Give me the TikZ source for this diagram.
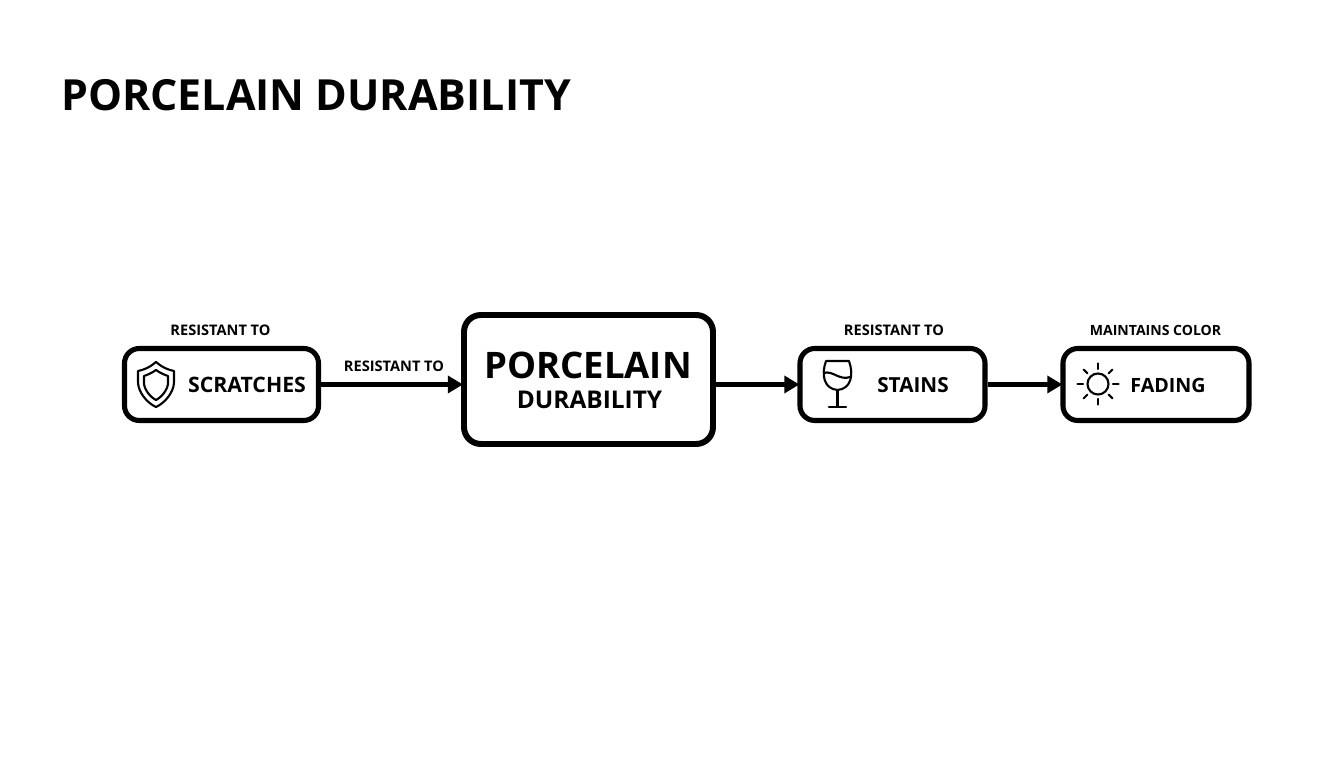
\documentclass[tikz,border=0pt]{standalone}
\usepackage{fontspec}
\setmainfont{Open Sans}
\usetikzlibrary{arrows.meta}
\begin{document}
\begin{tikzpicture}[->,>={Triangle[length=4.3pt,width=4.8pt]},line width=1.15pt,
  main box/.style={draw,rounded corners=4.2pt,line width=1.45pt,inner sep=0pt},
  big box/.style={main box,rounded corners=4.8pt,line width=1.7pt},
  main text/.style={font=\fontsize{6.05}{7}\selectfont\bfseries,inner sep=0pt},
  small text/.style={font=\fontsize{4.15}{5}\selectfont\bfseries,inner sep=0pt},
  icon line/.style={-,line width=0.6pt,line cap=round,line join=round}]

  \useasboundingbox (0,0) rectangle (13.44,7.68);

  \node[font=\fontsize{12.2}{15}\selectfont\bfseries,inner sep=0pt] (title) at (3.16,6.73) {PORCELAIN DURABILITY};

  \node[main box,minimum width=1.94cm,minimum height=0.72cm] (scratches) at (2.215,3.835) {};
  \node[big box,minimum width=2.49cm,minimum height=1.29cm] (porcelain) at (5.885,3.885) {};
  \node[main box,minimum width=1.85cm,minimum height=0.72cm] (stains) at (8.925,3.835) {};
  \node[main box,minimum width=1.86cm,minimum height=0.72cm] (fading) at (11.56,3.835) {};

  \node[main text] (t1) at (2.47,3.83) {SCRATCHES};
  \node[main text,font=\fontsize{5.9}{7}\selectfont\bfseries] (t3) at (9.13,3.83) {STAINS};
  \node[main text,font=\fontsize{5.6}{7}\selectfont\bfseries] (t4) at (11.68,3.83) {FADING};
  \node[font=\fontsize{10.4}{12}\selectfont\bfseries,inner sep=0pt] (t2a) at (5.88,4.03) {PORCELAIN};
  \node[font=\fontsize{6.95}{9}\selectfont\bfseries,inner sep=0pt] (t2b) at (5.895,3.68) {DURABILITY};

  \node[small text] (l1) at (2.205,4.38) {RESISTANT TO};
  \node[small text] (l2) at (3.94,4.02) {RESISTANT TO};
  \node[small text] (l3) at (8.94,4.38) {RESISTANT TO};
  \node[small text,font=\fontsize{4}{5}\selectfont\bfseries] (l4) at (11.555,4.38) {MAINTAINS COLOR};

  \draw (scratches) -- ([xshift=0.02cm]porcelain.west |- scratches);
  \draw (porcelain.east |- stains) -- ([xshift=0.02cm]stains.west);
  \draw (stains) -- ([xshift=0.02cm]fading.west);

  % shield
  \draw[icon line] (1.56,4.06) .. controls (1.49,4) and (1.43,3.98) .. (1.38,3.97)
    -- (1.38,3.86) .. controls (1.38,3.76) and (1.47,3.65) .. (1.56,3.61)
    .. controls (1.65,3.65) and (1.74,3.76) .. (1.74,3.86)
    -- (1.74,3.97) .. controls (1.69,3.98) and (1.63,4) .. (1.56,4.06) -- cycle;
  \draw[icon line] (1.56,3.98) .. controls (1.52,3.95) and (1.47,3.93) .. (1.44,3.92)
    -- (1.44,3.85) .. controls (1.44,3.79) and (1.5,3.71) .. (1.56,3.68)
    .. controls (1.62,3.71) and (1.68,3.79) .. (1.68,3.85)
    -- (1.68,3.92) .. controls (1.65,3.93) and (1.6,3.95) .. (1.56,3.98) -- cycle;

  % glass
  \draw[icon line] (8.26,4.07) -- (8.49,4.07) .. controls (8.54,3.93) and (8.51,3.79) .. (8.375,3.78)
    .. controls (8.24,3.79) and (8.21,3.93) .. (8.26,4.07) -- cycle;
  \draw[icon line] (8.24,3.95) .. controls (8.32,3.98) and (8.4,3.87) .. (8.5,3.91);
  \draw[icon line] (8.375,3.78) -- (8.375,3.61);
  \draw[icon line] (8.29,3.61) -- (8.46,3.61);

  % sun
  \draw[icon line] (10.98,3.84) circle (0.105);
  \foreach \ang in {0,45,...,315}
    \draw[icon line] (10.98,3.84) ++(\ang:0.15) -- ++(\ang:0.055);
\end{tikzpicture}
\end{document}
